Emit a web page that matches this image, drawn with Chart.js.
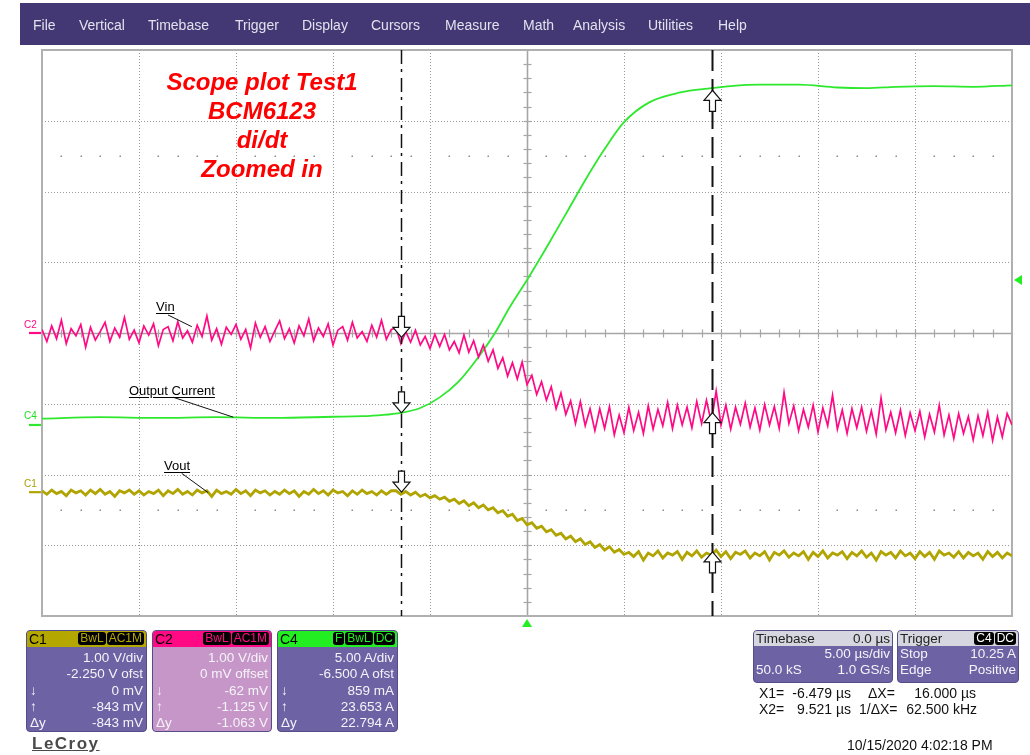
<!DOCTYPE html>
<html><head><meta charset="utf-8">
<script src="https://cdn.jsdelivr.net/npm/chart.js@4"></script>
<style>
html,body{margin:0;padding:0;background:#fff;width:1030px;height:755px;overflow:hidden;font-family:"Liberation Sans",Arial,sans-serif;}
#wrap{position:relative;width:1030px;height:755px;}
#scope{position:absolute;left:0;top:0;}
.abs{position:absolute;white-space:nowrap;}
#menu{position:absolute;left:20px;top:3px;width:1010px;height:42px;background:#433873;}
#menu span{position:absolute;top:0;line-height:44px;font-size:14px;color:#e2e2ee;}
#title{left:142px;top:67px;width:240px;text-align:center;color:#ff0000;font:italic bold 24px/29px "Liberation Sans",Arial,sans-serif;}
.lbl{font-size:13px;line-height:13px;color:#000;text-decoration:underline;text-underline-offset:2px;}
.tag{font-size:10px;line-height:10px;}
.cp{position:absolute;top:630px;height:102px;border-radius:4px;overflow:hidden;border:1px solid #554c8a;box-sizing:border-box;}
.cp .hd{height:16px;position:relative;font-size:14px;line-height:16px;color:#000;}
.cp .hd .nm{position:absolute;left:2px;top:0;}
.cp .hd .bd{position:absolute;right:2px;top:1px;display:flex;gap:1px;}
.cp .hd .bd b{background:#000;border-radius:3px;font-weight:normal;font-size:12px;line-height:13px;padding:0 2px;}
.cp .bdy{padding-top:3px;}
.cp .rw{position:relative;height:16.3px;line-height:16.3px;font-size:13.5px;color:#f4f4f8;}
.cp .rw .l{position:absolute;left:3px;}
.cp .rw .r{position:absolute;right:3px;}
.tp{position:absolute;top:630px;height:53px;border-radius:4px;overflow:hidden;background:#6c62a4;border:1px solid #554c8a;box-sizing:border-box;}
.tp .hd{height:15px;position:relative;background:#d6d6e0;font-size:13.5px;line-height:15px;color:#222;}
.tp .hd .l{position:absolute;left:2px;}
.tp .hd .r{position:absolute;right:2px;}
.tp .hd .bd{position:absolute;right:2px;top:1px;display:flex;gap:1px;}
.tp .hd .bd b{background:#000;color:#fff;border-radius:3px;font-weight:normal;font-size:12px;line-height:13px;padding:0 2px;}
.tp .rw{position:relative;height:16px;line-height:16px;font-size:13.5px;color:#f4f4f8;}
.tp .rw .l{position:absolute;left:2px;}
.tp .rw .r{position:absolute;right:2px;}
.ro{font-size:14px;line-height:16px;color:#111;}
</style>
</head>
<body>
<div id="wrap">
<canvas id="scope" width="1030" height="755"></canvas>

<div id="menu">
<span style="left:13px">File</span>
<span style="left:59px">Vertical</span>
<span style="left:128px">Timebase</span>
<span style="left:215px">Trigger</span>
<span style="left:282px">Display</span>
<span style="left:351px">Cursors</span>
<span style="left:425px">Measure</span>
<span style="left:503px">Math</span>
<span style="left:553px">Analysis</span>
<span style="left:628px">Utilities</span>
<span style="left:698px">Help</span>
</div>

<div id="title" class="abs">Scope plot Test1<br>BCM6123<br>di/dt<br>Zoomed in</div>

<div id="lblVin" class="abs lbl">Vin</div>
<div id="lblCur" class="abs lbl">Output Current</div>
<div id="lblVout" class="abs lbl">Vout</div>
<div id="tagC2" class="abs tag" style="color:#ff0a84">C2</div>
<div id="tagC4" class="abs tag" style="color:#22dd22">C4</div>
<div id="tagC1" class="abs tag" style="color:#aaa000">C1</div>

<div class="cp" style="left:26px;width:121px;background:#6c62a4;">
  <div class="hd" style="background:#b4a800"><span class="nm">C1</span><span class="bd"><b style="color:#b4a800">BwL</b><b style="color:#b4a800">AC1M</b></span></div>
  <div class="bdy">
    <div class="rw"><span class="r">1.00 V/div</span></div>
    <div class="rw"><span class="r">-2.250 V ofst</span></div>
    <div class="rw"><span class="l">↓</span><span class="r">0 mV</span></div>
    <div class="rw"><span class="l">↑</span><span class="r">-843 mV</span></div>
    <div class="rw"><span class="l">Δy</span><span class="r">-843 mV</span></div>
  </div>
</div>
<div class="cp" style="left:152px;width:120px;background:#c796c8;">
  <div class="hd" style="background:#ff0a84"><span class="nm">C2</span><span class="bd"><b style="color:#ff0a84">BwL</b><b style="color:#ff0a84">AC1M</b></span></div>
  <div class="bdy">
    <div class="rw"><span class="r">1.00 V/div</span></div>
    <div class="rw"><span class="r">0 mV offset</span></div>
    <div class="rw"><span class="l">↓</span><span class="r">-62 mV</span></div>
    <div class="rw"><span class="l">↑</span><span class="r">-1.125 V</span></div>
    <div class="rw"><span class="l">Δy</span><span class="r">-1.063 V</span></div>
  </div>
</div>
<div class="cp" style="left:277px;width:121px;background:#6c62a4;">
  <div class="hd" style="background:#22ee22"><span class="nm">C4</span><span class="bd"><b style="color:#22ee22">F</b><b style="color:#22ee22">BwL</b><b style="color:#22ee22">DC</b></span></div>
  <div class="bdy">
    <div class="rw"><span class="r">5.00 A/div</span></div>
    <div class="rw"><span class="r">-6.500 A ofst</span></div>
    <div class="rw"><span class="l">↓</span><span class="r">859 mA</span></div>
    <div class="rw"><span class="l">↑</span><span class="r">23.653 A</span></div>
    <div class="rw"><span class="l">Δy</span><span class="r">22.794 A</span></div>
  </div>
</div>

<div class="abs" style="left:32px;top:734px;font-size:17px;font-weight:bold;letter-spacing:1.5px;color:#4a4a4a;text-decoration:underline;">LeCroy</div>

<div class="tp" style="left:753px;width:140px;">
  <div class="hd"><span class="l">Timebase</span><span class="r">0.0 µs</span></div>
  <div class="rw"><span class="r">5.00 µs/div</span></div>
  <div class="rw"><span class="l">50.0 kS</span><span class="r">1.0 GS/s</span></div>
</div>
<div class="tp" style="left:897px;width:122px;">
  <div class="hd"><span class="l">Trigger</span><span class="bd"><b>C4</b><b>DC</b></span></div>
  <div class="rw"><span class="l">Stop</span><span class="r">10.25 A</span></div>
  <div class="rw"><span class="l">Edge</span><span class="r">Positive</span></div>
</div>

<div class="abs ro" style="left:759px;top:685px;">X1=</div>
<div class="abs ro" style="left:780px;top:685px;width:71px;text-align:right;">-6.479 µs</div>
<div class="abs ro" style="left:868px;top:685px;">ΔX=</div>
<div class="abs ro" style="left:900px;top:685px;width:76px;text-align:right;">16.000 µs</div>
<div class="abs ro" style="left:759px;top:701px;">X2=</div>
<div class="abs ro" style="left:780px;top:701px;width:71px;text-align:right;">9.521 µs</div>
<div class="abs ro" style="left:859px;top:701px;">1/ΔX=</div>
<div class="abs ro" style="left:900px;top:701px;width:77px;text-align:right;">62.500 kHz</div>
<div class="abs ro" style="left:847px;top:737px;">10/15/2020 4:02:18 PM</div>
</div>

<script>
// ---- Sample times (µs) for C1 / C2 acquisition ----
const timeUs = [
-25,-24.75,-24.5,-24.25,-24,-23.75,-23.5,-23.25,-23,-22.75,-22.5,-22.25,-22,-21.75,-21.5,-21.25,-21,-20.75,-20.5,-20.25,
-20,-19.75,-19.5,-19.25,-19,-18.75,-18.5,-18.25,-18,-17.75,-17.5,-17.25,-17,-16.75,-16.5,-16.25,-16,-15.75,-15.5,-15.25,
-15,-14.75,-14.5,-14.25,-14,-13.75,-13.5,-13.25,-13,-12.75,-12.5,-12.25,-12,-11.75,-11.5,-11.25,-11,-10.75,-10.5,-10.25,
-10,-9.75,-9.5,-9.25,-9,-8.75,-8.5,-8.25,-8,-7.75,-7.5,-7.25,-7,
-6.75,-6.5,-6.25,-6,-5.75,-5.5,-5.25,-5,-4.75,-4.5,-4.25,-4,-3.75,-3.5,-3.25,-3,-2.75,-2.5,-2.25,-2,
-1.75,-1.5,-1.25,-1,-0.75,-0.5,-0.25,0,0.25,0.5,0.75,1,1.25,1.5,1.75,2,2.25,2.5,2.75,3,
3.25,3.5,3.75,4,4.25,4.5,4.75,5,
5.25,5.5,5.75,6,6.25,6.5,6.75,7,7.25,7.5,7.75,8,8.25,8.5,8.75,9,9.25,9.5,9.75,10,
10.25,10.5,10.75,11,11.25,11.5,11.75,12,12.25,12.5,12.75,13,13.25,13.5,13.75,14,14.25,14.5,14.75,15,
15.25,15.5,15.75,16,16.25,16.5,16.75,17,17.25,17.5,17.75,18,18.25,18.5,18.75,19,19.25,19.5,19.75,20,
20.25,20.5,20.75,21,21.25,21.5,21.75,22,22.25,22.5,22.75,23,23.25,23.5,23.75,24,24.25,24.5,24.75,25
];
// ---- C2: Vin (V) ----
const vinV = [
0.05,-0.12,0.10,-0.08,0.18,-0.15,0.06,-0.04,0.12,-0.20,0.08,-0.10,0.02,0.15,-0.12,0.07,-0.06,0.22,-0.09,0.04,
-0.14,0.10,-0.03,0.13,-0.18,0.05,0.09,-0.11,0.16,-0.07,0.03,-0.13,0.11,-0.05,0.24,-0.10,0.06,-0.16,0.08,-0.02,
0.12,-0.09,0.05,-0.21,0.14,-0.06,0.09,-0.12,0.03,0.17,-0.08,0.06,-0.14,0.10,-0.04,0.20,-0.11,0.07,-0.05,0.13,
-0.17,0.04,0.09,-0.10,0.15,-0.07,0.02,-0.12,0.11,-0.06,0.18,-0.09,0.05,
0.07,-0.15,0.02,-0.13,0.04,-0.17,-0.05,-0.22,-0.02,-0.19,-0.02,-0.24,-0.12,-0.28,-0.03,-0.27,-0.11,-0.34,-0.17,-0.40,
-0.24,-0.50,-0.35,-0.61,-0.42,-0.65,-0.41,-0.73,-0.60,-0.87,-0.69,-0.95,-0.76,-1.07,-0.85,-1.15,-0.96,-1.28,-0.97,-1.31,
-1.07,-1.38,-1.07,-1.35,-1.04,-1.44,-1.16,-1.41,
-1.05,-1.38,-1.12,-1.42,-1.03,-1.36,-1.08,-1.31,-0.98,-1.35,-1.02,-1.30,-1.05,-1.34,-0.97,-1.28,-0.95,-1.26,-0.82,-1.30,
-1.02,-1.36,-1.05,-1.29,-0.99,-1.33,-1.06,-1.37,-1.01,-1.30,-1.04,-1.35,-0.84,-1.28,-1.03,-1.38,-1.08,-1.33,-1.02,-1.40,
-1.06,-1.31,-0.88,-1.36,-1.09,-1.42,-1.07,-1.34,-1.05,-1.39,-1.10,-1.43,-0.92,-1.37,-1.12,-1.41,-1.09,-1.45,-1.13,-1.38,
-1.11,-1.47,-1.15,-1.40,-1.02,-1.44,-1.16,-1.49,-1.14,-1.42,-1.18,-1.51,-1.17,-1.45,-1.12,-1.52,-1.19,-1.47,-1.14,-1.30
];
// ---- C1: Vout (V, AC coupled) ----
const voutV = [
0.02,-0.03,0.03,-0.02,0.01,-0.05,0.03,-0.01,0.02,-0.04,0.03,-0.02,0.04,-0.03,0.01,-0.06,0.02,-0.01,0.03,-0.03,
0.02,-0.04,0.01,-0.02,0.03,-0.05,0.02,-0.02,0.04,-0.03,0.01,-0.04,0.03,-0.01,0.02,-0.06,0.03,-0.02,0.01,-0.03,
0.04,-0.02,0.02,-0.05,0.03,-0.01,0.02,-0.04,0.01,-0.03,0.03,-0.02,0.02,-0.06,0.01,-0.03,0.04,-0.02,0.02,-0.04,
0.03,-0.01,0.01,-0.05,0.02,-0.03,0.03,-0.02,0.01,-0.04,0.02,-0.03,0.02,
0.02,-0.03,0.01,-0.04,0.00,-0.06,-0.03,-0.08,-0.05,-0.10,-0.07,-0.13,-0.10,-0.16,-0.12,-0.19,-0.15,-0.22,-0.18,-0.25,
-0.22,-0.29,-0.26,-0.34,-0.31,-0.40,-0.37,-0.46,-0.43,-0.51,-0.48,-0.56,-0.53,-0.61,-0.58,-0.66,-0.62,-0.70,-0.66,-0.74,
-0.70,-0.78,-0.74,-0.82,-0.77,-0.85,-0.81,-0.88,
-0.85,-0.91,-0.84,-0.96,-0.86,-0.90,-0.83,-0.93,-0.86,-0.89,
-0.84,-0.95,-0.85,-0.90,-0.83,-0.92,-0.86,-0.89,-0.82,-0.91,
-0.84,-0.94,-0.85,-0.88,-0.83,-0.93,-0.86,-0.90,-0.84,-0.96,
-0.85,-0.89,-0.83,-0.92,-0.86,-0.90,-0.84,-0.95,-0.85,-0.91,
-0.83,-0.93,-0.86,-0.89,-0.84,-0.94,-0.85,-0.90,-0.83,-0.92,
-0.86,-0.96,-0.84,-0.89,-0.85,-0.93,-0.83,-0.90,-0.86,-0.94,
-0.84,-0.91,-0.85,-0.95,-0.83,-0.89,-0.86,-0.92,-0.84,-0.93,
-0.85,-0.90,-0.86,-0.95,-0.84,-0.91,-0.85,-0.93,-0.86,-0.90
];
// ---- C4: Output current (A) ----
const currentTimeUs = [-25,-22,-19,-16,-13,-10,-8.5,-7.5,-6.5,-5.5,-4.5,-3.5,-2.5,-1.65,-0.9,0,0.9,2,3,4,5,6.3,7.9,9.5,10.5,12,14,16,17.5,19,21,23,25];
const currentA = [0.45,0.55,0.5,0.55,0.5,0.58,0.62,0.7,0.86,1.2,1.95,3.1,4.8,6.5,8.3,10.25,12.3,14.9,17.3,19.5,21.4,22.8,23.5,23.8,23.95,24.05,24.05,23.85,23.8,23.9,23.95,23.9,24.0];

// ---- Cursors and readings ----
const cursorTimesUs = [-6.479, 9.521];
const c1CursorV = [0, -0.843];
const c2CursorV = [-0.062, -1.125];
const c4CursorA = [0.859, 23.653];

// ---- Vertical / timebase settings ----
const c1PerDiv = 1, c1Offset = -2.25;
const c2PerDiv = 1, c2Offset = 0;
const c4PerDiv = 5, c4Offset = -6.5;
const timePerDivUs = 5, timeCenterUs = 0;
const triggerLevelA = 10.25, triggerTimeUs = 0;
const divsX = 10, divsY = 8;

// ---- Annotations (time µs, divisions) ----
const annotations = [
  {id:'lblVin',  t:-19.12, d:0.311,  from:[-18.5,0.254],  to:[-17.28,0.089]},
  {id:'lblCur',  t:-20.52, d:-0.876, from:[-18.23,-0.909], to:[-15.14,-1.19]},
  {id:'lblVout', t:-18.71, d:-1.936, from:[-17.8,-1.983],  to:[-16.43,-2.257]}
];

const COL_C1 = '#b0a400', COL_C2 = '#ff0a84', COL_C4 = '#2ee82e';

function pts(xs, ys){ return xs.map((x,i)=>({x:x, y:ys[i]})); }

function drawArrow(ctx, x, y, down){
  const s = down ? -1 : 1;
  const hw = 8.5, hh = 10, sw = 3, sl = 11;
  ctx.beginPath();
  ctx.moveTo(x, y);
  ctx.lineTo(x-hw, y+s*hh);
  ctx.lineTo(x-sw, y+s*hh);
  ctx.lineTo(x-sw, y+s*(hh+sl));
  ctx.lineTo(x+sw, y+s*(hh+sl));
  ctx.lineTo(x+sw, y+s*hh);
  ctx.lineTo(x+hw, y+s*hh);
  ctx.closePath();
  ctx.fillStyle = '#fff';
  ctx.fill();
  ctx.lineWidth = 1.2;
  ctx.strokeStyle = '#111';
  ctx.stroke();
}

const scopePlugin = {
  id:'scope',
  beforeDatasetsDraw(chart){
    const ctx = chart.ctx, a = chart.chartArea, xs = chart.scales.x, yd = chart.scales.yDiv;
    ctx.save();
    ctx.strokeStyle = '#9a9a9a'; ctx.lineWidth = 1; ctx.setLineDash([1,2]);
    for (let k = -divsX/2+1; k < divsX/2; k++){
      if (k === 0) continue;
      const x = Math.round(xs.getPixelForValue(timeCenterUs + k*timePerDivUs)) + 0.5;
      ctx.beginPath(); ctx.moveTo(x, a.top); ctx.lineTo(x, a.bottom); ctx.stroke();
    }
    for (let k = -divsY/2+1; k < divsY/2; k++){
      if (k === 0) continue;
      const y = Math.round(yd.getPixelForValue(k)) + 0.5;
      ctx.beginPath(); ctx.moveTo(a.left, y); ctx.lineTo(a.right, y); ctx.stroke();
    }
    ctx.setLineDash([]);
    ctx.fillStyle = '#8c8c8c';
    [2.5, -2.5].forEach(d=>{
      const y = Math.round(yd.getPixelForValue(d));
      for (let m = -divsX*5/2+1; m < divsX*5/2; m++){
        if (m % 5 === 0) continue;
        const x = Math.round(xs.getPixelForValue(timeCenterUs + m*timePerDivUs/5));
        ctx.fillRect(x-0.5, y-0.5, 1.5, 1.5);
      }
    });
    const cx = Math.round(xs.getPixelForValue(timeCenterUs)) + 0.5;
    const cy = Math.round(yd.getPixelForValue(0)) + 0.5;
    ctx.strokeStyle = '#a6a6a6'; ctx.lineWidth = 1.6;
    ctx.beginPath(); ctx.moveTo(a.left, cy); ctx.lineTo(a.right, cy); ctx.stroke();
    ctx.beginPath(); ctx.moveTo(cx, a.top); ctx.lineTo(cx, a.bottom); ctx.stroke();
    ctx.lineWidth = 1.2;
    for (let m = -divsX*5/2+1; m < divsX*5/2; m++){
      const x = Math.round(xs.getPixelForValue(timeCenterUs + m*timePerDivUs/5)) + 0.5;
      ctx.beginPath(); ctx.moveTo(x, cy-4); ctx.lineTo(x, cy+4); ctx.stroke();
    }
    for (let m = -divsY*5/2+1; m < divsY*5/2; m++){
      const y = Math.round(yd.getPixelForValue(m/5)) + 0.5;
      ctx.beginPath(); ctx.moveTo(cx-4, y); ctx.lineTo(cx+4, y); ctx.stroke();
    }
    ctx.strokeStyle = '#b0b0b0'; ctx.lineWidth = 2;
    ctx.strokeRect(a.left, a.top, a.right-a.left, a.bottom-a.top);
    ctx.restore();
  },
  afterDatasetsDraw(chart){
    const ctx = chart.ctx, a = chart.chartArea, xs = chart.scales.x, yd = chart.scales.yDiv;
    const y1 = chart.scales.yC1, y2 = chart.scales.yC2, y4 = chart.scales.yC4;
    ctx.save();
    const xc1 = Math.round(xs.getPixelForValue(cursorTimesUs[0])) + 0.5;
    const xc2 = Math.round(xs.getPixelForValue(cursorTimesUs[1])) + 0.5;
    ctx.strokeStyle = '#111';
    ctx.lineWidth = 1.5; ctx.setLineDash([14,5,3,6]);
    ctx.beginPath(); ctx.moveTo(xc1, a.top); ctx.lineTo(xc1, a.bottom); ctx.stroke();
    ctx.lineWidth = 2; ctx.setLineDash([21,8]);
    ctx.beginPath(); ctx.moveTo(xc2, a.top); ctx.lineTo(xc2, a.bottom); ctx.stroke();
    ctx.setLineDash([]);
    drawArrow(ctx, xc1, y2.getPixelForValue(c2CursorV[0]), true);
    drawArrow(ctx, xc1, y4.getPixelForValue(c4CursorA[0]), true);
    drawArrow(ctx, xc1, y1.getPixelForValue(c1CursorV[0]), true);
    drawArrow(ctx, xc2, y2.getPixelForValue(c2CursorV[1]), false);
    drawArrow(ctx, xc2, y4.getPixelForValue(c4CursorA[1]), false);
    drawArrow(ctx, xc2, y1.getPixelForValue(c1CursorV[1]), false);
    const marks = [
      {y: y2.getPixelForValue(0), c: COL_C2, tag:'tagC2'},
      {y: y4.getPixelForValue(0), c: COL_C4, tag:'tagC4'},
      {y: y1.getPixelForValue(0), c: COL_C1, tag:'tagC1'}
    ];
    marks.forEach(m=>{
      ctx.strokeStyle = m.c; ctx.lineWidth = 2.2;
      ctx.beginPath(); ctx.moveTo(a.left-13, m.y); ctx.lineTo(a.left-1, m.y); ctx.stroke();
      const el = document.getElementById(m.tag);
      el.style.left = (a.left-18) + 'px';
      el.style.top = (m.y - 13.5) + 'px';
    });
    ctx.fillStyle = '#22ee22';
    const ty = y4.getPixelForValue(triggerLevelA);
    ctx.beginPath(); ctx.moveTo(a.right+2, ty); ctx.lineTo(a.right+10, ty-5); ctx.lineTo(a.right+10, ty+5); ctx.closePath(); ctx.fill();
    const tx = xs.getPixelForValue(triggerTimeUs);
    ctx.beginPath(); ctx.moveTo(tx, a.bottom+3); ctx.lineTo(tx-5, a.bottom+11); ctx.lineTo(tx+5, a.bottom+11); ctx.closePath(); ctx.fill();
    ctx.strokeStyle = '#111'; ctx.lineWidth = 1;
    annotations.forEach(an=>{
      ctx.beginPath();
      ctx.moveTo(xs.getPixelForValue(an.from[0]), yd.getPixelForValue(an.from[1]));
      ctx.lineTo(xs.getPixelForValue(an.to[0]), yd.getPixelForValue(an.to[1]));
      ctx.stroke();
      const el = document.getElementById(an.id);
      el.style.left = xs.getPixelForValue(an.t) + 'px';
      el.style.top = (yd.getPixelForValue(an.d) - 11) + 'px';
    });
    ctx.restore();
  }
};

new Chart(document.getElementById('scope'), {
  type: 'line',
  data: {
    datasets: [
      {label:'Vout', data: pts(timeUs, voutV), yAxisID:'yC1', borderColor: COL_C1, borderWidth: 2.8, pointRadius: 0, tension: 0},
      {label:'Vin', data: pts(timeUs, vinV), yAxisID:'yC2', borderColor: COL_C2, borderWidth: 1.7, pointRadius: 0, tension: 0},
      {label:'Output Current', data: pts(currentTimeUs, currentA), yAxisID:'yC4', borderColor: COL_C4, borderWidth: 1.8, pointRadius: 0, cubicInterpolationMode: 'monotone'}
    ]
  },
  options: {
    responsive: false,
    animation: false,
    devicePixelRatio: 1,
    events: [],
    layout: {padding: {left: 42, top: 50, right: 18, bottom: 139}},
    plugins: {legend: {display: false}, tooltip: {enabled: false}},
    scales: {
      x: {type: 'linear', display: false, min: timeCenterUs - divsX/2*timePerDivUs, max: timeCenterUs + divsX/2*timePerDivUs},
      yC1: {type: 'linear', display: false, min: -divsY/2*c1PerDiv - c1Offset, max: divsY/2*c1PerDiv - c1Offset},
      yC2: {type: 'linear', display: false, min: -divsY/2*c2PerDiv - c2Offset, max: divsY/2*c2PerDiv - c2Offset},
      yC4: {type: 'linear', display: false, min: -divsY/2*c4PerDiv - c4Offset, max: divsY/2*c4PerDiv - c4Offset},
      yDiv: {type: 'linear', display: false, min: -divsY/2, max: divsY/2}
    }
  },
  plugins: [scopePlugin]
});
</script>
</body></html>
